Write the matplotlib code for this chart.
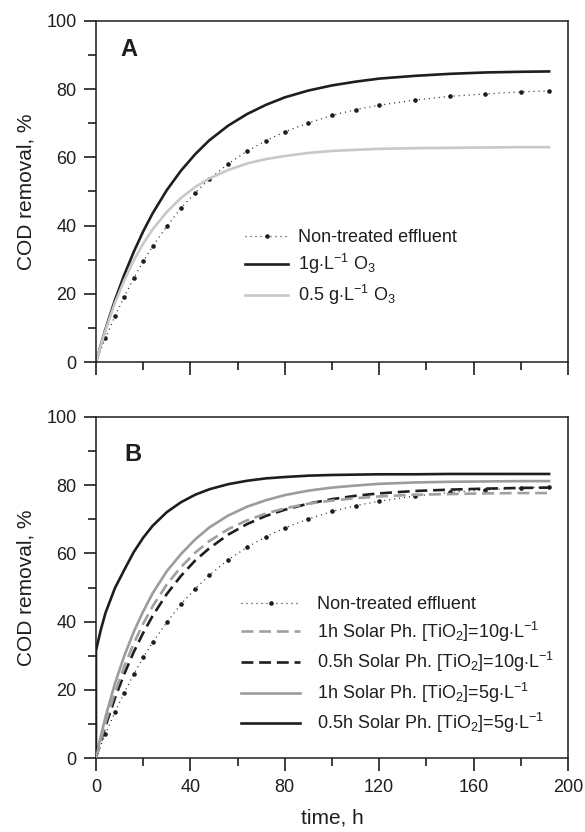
import matplotlib
matplotlib.use("Agg")
import matplotlib.pyplot as plt
from matplotlib.ticker import MultipleLocator

plt.rcParams['font.family'] = ['Liberation Sans', 'DejaVu Sans']
plt.rcParams['mathtext.fontset'] = 'custom'
plt.rcParams['mathtext.rm'] = 'Liberation Sans'
plt.rcParams['mathtext.it'] = 'Liberation Sans:italic'
plt.rcParams['mathtext.bf'] = 'Liberation Sans:bold'

# time grid (h)
t = [0, 2, 4, 8, 12, 16, 20, 24, 30, 36, 42, 48, 56, 64, 72, 80, 90, 100,
     110, 120, 135, 150, 165, 180, 192]

# COD removal, %
non_treated = [0, 3.6, 7.0, 13.4, 19.2, 24.6, 29.5, 33.9, 39.8, 45.1, 49.6, 53.6,
               58.1, 61.8, 64.9, 67.5, 70.1, 72.3, 74.0, 75.3, 76.8, 77.9, 78.6,
               79.2, 79.5]

# panel A: ozonation
o3_1g = [0, 4.9, 9.6, 18.1, 25.6, 32.3, 38.3, 43.6, 50.4, 56.1, 60.9, 65.0, 69.3,
         72.7, 75.4, 77.6, 79.6, 81.1, 82.2, 83.1, 83.9, 84.5, 84.9, 85.1, 85.2]
o3_05g = [0, 4.8, 9.3, 17.3, 24.0, 29.8, 34.7, 38.9, 44.0, 48.1, 51.3, 53.8, 56.3,
          58.2, 59.5, 60.4, 61.3, 61.9, 62.2, 62.5, 62.7, 62.8, 62.9, 63.0, 63.0]

# panel B: solar photocatalysis
sol_1h_10 = [0, 5.3, 10.3, 19.2, 26.9, 33.6, 39.4, 44.5, 50.9, 56.0, 60.2, 63.6,
             67.1, 69.7, 71.7, 73.2, 74.6, 75.5, 76.2, 76.7, 77.2, 77.4, 77.6,
             77.7, 77.7]
sol_05h_10 = [0, 4.8, 9.3, 17.5, 24.7, 31.1, 36.7, 41.7, 48.1, 53.4, 57.9, 61.5,
              65.5, 68.6, 71.0, 72.8, 74.6, 75.9, 76.9, 77.6, 78.3, 78.7, 79.0,
              79.2, 79.3]
sol_1h_5 = [0, 6.3, 12.0, 21.8, 30.0, 37.0, 43.0, 48.3, 54.8, 59.8, 64.1, 67.6,
            71.1, 73.7, 75.6, 77.1, 78.4, 79.3, 79.9, 80.4, 80.8, 81.0, 81.1,
            81.2, 81.2]
# this one jumps straight up at t=0
t_jump = [0] + t
sol_05h_5 = [0, 31.5, 37.5, 42.5, 49.8, 55.2, 60.4, 64.6, 68.1, 72.1, 75.0, 77.2,
             78.8, 80.3, 81.3, 82.0, 82.4, 82.8, 83.0, 83.1, 83.2, 83.2, 83.3,
             83.3, 83.3, 83.3]

labels_a = ["Non-treated effluent",
            r"1g$\cdot$L$^{\mathregular{-1}}$ O$_{\mathregular{3}}$",
            r"0.5 g$\cdot$L$^{\mathregular{-1}}$ O$_{\mathregular{3}}$"]
labels_b = ["Non-treated effluent",
            r"1h Solar Ph. [TiO$_{\mathregular{2}}$]=10g$\cdot$L$^{\mathregular{-1}}$",
            r"0.5h Solar Ph. [TiO$_{\mathregular{2}}$]=10g$\cdot$L$^{\mathregular{-1}}$",
            r"1h Solar Ph. [TiO$_{\mathregular{2}}$]=5g$\cdot$L$^{\mathregular{-1}}$",
            r"0.5h Solar Ph. [TiO$_{\mathregular{2}}$]=5g$\cdot$L$^{\mathregular{-1}}$"]

INK = "#1e1e1e"
FS = 13

fig = plt.figure(figsize=(5.85, 8.32), dpi=100)
ax_a = fig.add_axes([0.1641, 0.5649, 0.8068, 0.4099])
ax_b = fig.add_axes([0.1641, 0.0889, 0.8068, 0.4099])


def dotted(ax, label):
    ax.plot(t, non_treated, color=INK, lw=0.9, linestyle=(0, (0.8, 3.2)),
            marker="o", ms=2.3, markevery=list(range(2, len(t))), label=label)


def style(ax):
    ax.set_xlim(0, 200)
    ax.set_ylim(0, 100)
    ax.xaxis.set_major_locator(MultipleLocator(40))
    ax.xaxis.set_minor_locator(MultipleLocator(20))
    ax.yaxis.set_major_locator(MultipleLocator(20))
    ax.yaxis.set_minor_locator(MultipleLocator(10))
    ax.tick_params(which="major", direction="out", length=9, width=1.2,
                   colors=INK, labelsize=FS)
    ax.tick_params(which="minor", direction="out", length=5.5, width=1.2,
                   colors=INK)
    ax.tick_params(axis="y", which="major", pad=5)
    ax.tick_params(axis="x", which="major", pad=6)
    for s in ax.spines.values():
        s.set_linewidth(1.1)
        s.set_color(INK)
    ax.set_ylabel("COD removal, %", fontsize=15, color=INK, labelpad=8)


# ---- panel A ----
dotted(ax_a, labels_a[0])
ax_a.plot(t, o3_1g, color=INK, lw=1.9, label=labels_a[1])
ax_a.plot(t, o3_05g, color="#c8c8c8", lw=1.9, label=labels_a[2])
style(ax_a)
ax_a.tick_params(axis="x", labelbottom=False)
ax_a.text(10.5, 91.5, "A", fontsize=17, fontweight="bold", color=INK,
          ha="left", va="center")
ax_a.legend(loc="upper left", bbox_to_anchor=(0.316, 0.39), frameon=False,
            fontsize=FS, handlelength=2.4, handletextpad=0.55,
            labelspacing=0.35, borderpad=0, borderaxespad=0, labelcolor=INK)

# ---- panel B ----
dotted(ax_b, labels_b[0])
ax_b.plot(t, sol_1h_10, color="#a0a0a0", lw=1.9, dashes=(4.5, 2.2),
          label=labels_b[1], zorder=3)
ax_b.plot(t, sol_05h_10, color=INK, lw=1.9, dashes=(4.5, 2.2),
          label=labels_b[2])
ax_b.plot(t, sol_1h_5, color="#9c9c9c", lw=1.9, label=labels_b[3])
ax_b.plot(t_jump, sol_05h_5, color=INK, lw=1.9, label=labels_b[4])
style(ax_b)
ax_b.set_xlabel("time, h", fontsize=15, color=INK, labelpad=9)
ax_b.text(12, 89, "B", fontsize=17, fontweight="bold", color=INK,
          ha="left", va="center")
ax_b.legend(loc="upper left", bbox_to_anchor=(0.307, 0.475), frameon=False,
            fontsize=FS, handlelength=3.3, handletextpad=0.9,
            labelspacing=0.36, borderpad=0, borderaxespad=0, labelcolor=INK)

fig.savefig("out.png", dpi=100)
